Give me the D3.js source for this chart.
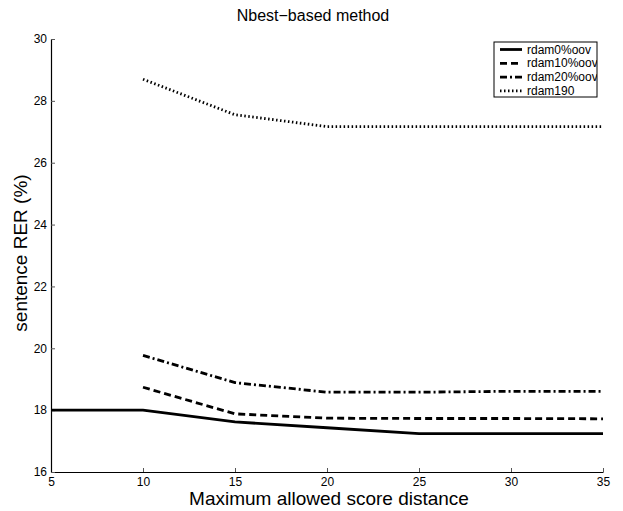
<!DOCTYPE html>
<html>
<head>
<meta charset="utf-8">
<script src="https://cdn.jsdelivr.net/npm/d3@7"></script>
<style>
body { margin: 0; background: #fff; }
svg { font-family: "Liberation Sans", Arial, sans-serif; }
</style>
</head>
<body>
<svg id="chart" width="623" height="511"></svg>
<script>
const xValues = [5, 10, 15, 20, 25, 30, 35];
const seriesNames = ["rdam0%oov", "rdam10%oov", "rdam20%oov", "rdam190"];
const rdam0 = [18.0, 18.0, 17.62, 17.43, 17.24, 17.24, 17.24];
const rdam10 = [null, 18.74, 17.88, 17.74, 17.73, 17.73, 17.72];
const rdam20 = [null, 19.77, 18.89, 18.58, 18.58, 18.61, 18.61];
const rdam190 = [null, 28.7, 27.55, 27.17, 27.17, 27.17, 27.17];
const xTicks = [5, 10, 15, 20, 25, 30, 35];
const yTicks = [16, 18, 20, 22, 24, 26, 28, 30];

const svg = d3.select("#chart");
const mLeft = 51, mRight = 603, mTop = 39, mBottom = 472;
const x = d3.scaleLinear().domain([5, 35]).range([mLeft, mRight]);
const y = d3.scaleLinear().domain([16, 30]).range([mBottom, mTop]);

// axes
const xAxis = svg.append("g").attr("transform", `translate(0,${mBottom})`)
  .call(d3.axisBottom(x).tickValues(xTicks).tickSizeInner(-4).tickSizeOuter(0).tickPadding(5));
const yAxis = svg.append("g").attr("transform", `translate(${mLeft},0)`)
  .call(d3.axisLeft(y).tickValues(yTicks).tickSizeInner(-4).tickSizeOuter(0).tickPadding(4));
[xAxis, yAxis].forEach(g => {
  g.select(".domain").attr("stroke", "#000").attr("stroke-width", 1.2);
  g.selectAll(".tick line").attr("stroke", "#555").attr("stroke-width", 1);
  g.selectAll(".tick text").attr("font-size", 12).attr("fill", "#000")
    .attr("font-family", "Liberation Sans, Arial, sans-serif");
});

const styles = [
  { data: rdam0, dash: null },
  { data: rdam10, dash: "7,4" },
  { data: rdam20, dash: "7,3,2,3" },
  { data: rdam190, dash: "1.5,2.5" }
];

const line = d3.line()
  .defined(d => d[1] !== null)
  .x(d => x(d[0])).y(d => y(d[1]));

styles.forEach(s => {
  svg.append("path")
    .datum(xValues.map((v, i) => [v, s.data[i]]))
    .attr("d", line)
    .attr("fill", "none")
    .attr("stroke", "#000")
    .attr("stroke-width", 2.8)
    .attr("stroke-dasharray", s.dash);
});

// title & labels
svg.append("text").attr("x", 313).attr("y", 21).attr("text-anchor", "middle")
  .attr("font-size", 16).text("Nbest\u2212based method");
svg.append("text").attr("x", 329).attr("y", 505).attr("text-anchor", "middle")
  .attr("font-size", 19).text("Maximum allowed score distance");
svg.append("text").attr("transform", "translate(27,253) rotate(-90)")
  .attr("text-anchor", "middle").attr("font-size", 19).text("sentence RER (%)");

// legend
const lx = 494, ly = 42, lw = 103, lh = 55;
const defs = svg.append("defs");
defs.append("clipPath").attr("id", "legclip").append("rect")
  .attr("x", lx).attr("y", ly).attr("width", lw).attr("height", lh);
const leg = svg.append("g");
leg.append("rect").attr("x", lx).attr("y", ly).attr("width", lw).attr("height", lh)
  .attr("fill", "#fff").attr("stroke", "#000").attr("stroke-width", 1);
const lg = leg.append("g").attr("clip-path", "url(#legclip)");
seriesNames.forEach((name, i) => {
  const yy = ly + 7.5 + i * 13.8;
  lg.append("line").attr("x1", lx + 6).attr("x2", lx + 28).attr("y1", yy).attr("y2", yy)
    .attr("stroke", "#000").attr("stroke-width", 2.8)
    .attr("stroke-dasharray", styles[i].dash);
  lg.append("text").attr("x", lx + 33).attr("y", yy + 4).attr("font-size", 12)
    .text(name);
});
</script>
</body>
</html>
